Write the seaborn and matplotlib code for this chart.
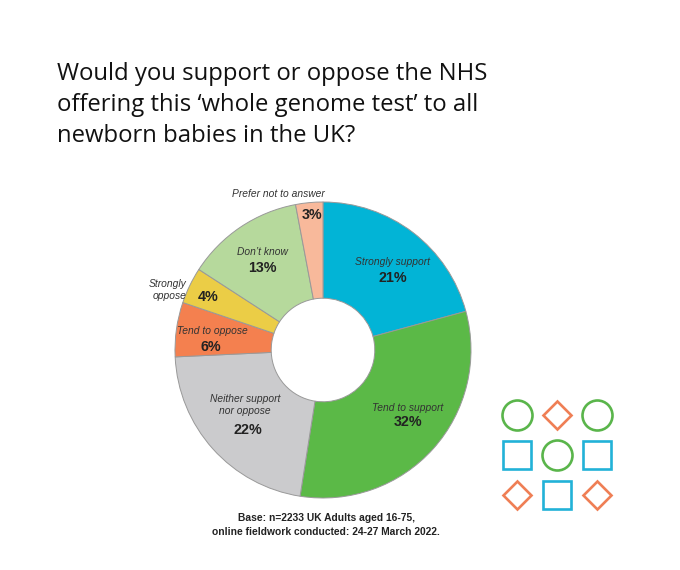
import matplotlib
matplotlib.use("Agg")
import matplotlib.pyplot as plt
import seaborn as sns

# survey answers, clockwise from 12 o'clock
answers = ["Strongly support", "Tend to support", "Neither support\nnor oppose",
           "Tend to oppose", "Strongly\noppose", "Don't know", "Prefer not to answer"]
shares = [21, 32, 22, 6, 4, 13, 3]
colours = ["#02b4d6", "#5bb947", "#cbcbcd", "#f4804f", "#ebcd46", "#b6d99c", "#f8b99b"]

# where each name / percentage sits (pie radius = 1)
name_pos = [(0.47, 0.595), (0.574, -0.392), (-0.527, -0.372), (-0.75, 0.128),
            (-0.92, 0.405), (-0.412, 0.662), (-0.304, 1.054)]
pct_pos = [(0.47, 0.486), (0.574, -0.486), (-0.507, -0.54), (-0.757, 0.02),
           (-0.777, 0.358), (-0.412, 0.554), (-0.074, 0.912)]

# decorative icon grid
icon_rows = [["o", "D", "o"], ["s", "o", "s"], ["D", "s", "D"]]
icon_colour = {"o": "#5ab54b", "D": "#ef7f55", "s": "#22b2d8"}
icon_size = {"o": 21.6, "D": 14.3, "s": 20.2}

sns.set_theme(style="white")
plt.rcParams["font.family"] = ["Liberation Sans", "DejaVu Sans"]

fig = plt.figure(figsize=(6.8, 5.7), dpi=100)
fig.patch.set_facecolor("white")

fig.text(57 / 680, 1 - 62 / 570,
         "Would you support or oppose the NHS\noffering this \u2018whole genome test\u2019 to all\nnewborn babies in the UK?",
         fontsize=17.2, family=["Open Sans", "DejaVu Sans"], color="#111111",
         va="top", ha="left", linespacing=1.38)

ax = fig.add_axes([175 / 680, 72 / 570, 296 / 680, 296 / 570])
ax.pie(shares, colors=colours, startangle=90, counterclock=False,
       wedgeprops=dict(width=0.65, edgecolor="#999999", linewidth=0.7))
ax.set_xlim(-1, 1)
ax.set_ylim(-1, 1)
ax.set_aspect("equal")
ax.axis("off")

narrow = ["Liberation Sans Narrow", "Liberation Sans", "DejaVu Sans"]
for i, name in enumerate(answers):
    ha = "right" if name.startswith("Strongly\n") else "center"
    ax.text(*name_pos[i], name.replace("Don't", "Don\u2019t"), ha=ha, va="center",
            fontsize=7.4, style="italic", family=narrow, color="#333333",
            linespacing=1.2, clip_on=False)
    ax.text(*pct_pos[i], f"{shares[i]}%", ha="center", va="center",
            fontsize=10.3, weight="bold", color="#222222", clip_on=False)

fig.text(326 / 680, 1 - 525 / 570,
         "Base: n=2233 UK Adults aged 16-75,\nonline fieldwork conducted: 24-27 March 2022.",
         ha="center", va="center", fontsize=7.4, weight="semibold", color="#222222",
         linespacing=1.45)

iax = fig.add_axes([497 / 680, 55 / 570, 120 / 680, 120 / 570])
for r, row in enumerate(icon_rows):
    for c, m in enumerate(row):
        iax.plot(c, r, marker=m, markersize=icon_size[m], markerfacecolor="none",
                 markeredgecolor=icon_colour[m], markeredgewidth=1.9, linestyle="none")
iax.set_xlim(-0.5, 2.5)
iax.set_ylim(2.5, -0.5)
iax.axis("off")

fig.savefig("out.png", dpi=100, facecolor="white")
